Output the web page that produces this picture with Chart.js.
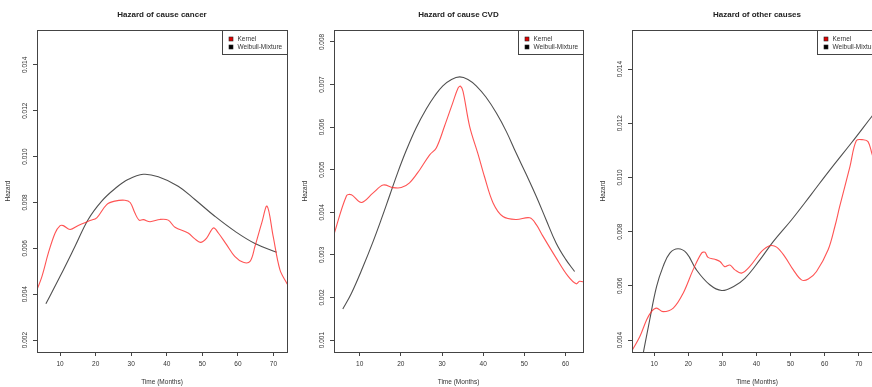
<!DOCTYPE html>
<html>
<head>
  <title>Hazard by cause</title>
  <script src="https://cdn.jsdelivr.net/npm/chart.js@4.4.0/dist/chart.umd.min.js"></script>
  <style>
    html, body {
      margin: 0;
      padding: 0;
      background: #fff;
      overflow: hidden;
    }
    #wrap {
      position: relative;
      width: 872px;
      height: 387px;
      overflow: hidden;
    }
    canvas {
      position: absolute;
      top: 0;
    }
  </style>
</head>
<body>
  <div id="wrap">
    <canvas id="c1" width="298" height="387" style="left:0px"></canvas>
    <canvas id="c2" width="298" height="387" style="left:297px"></canvas>
    <canvas id="c3" width="298" height="387" style="left:595px"></canvas>
  </div>

  <script>
    // legend labels
    var seriesNames = ['Kernel', 'Weibull-Mixture'];

    // cancer - kernel estimate
    var cancerKernelT = [3.0, 4.9, 6.7, 8.6, 10.0, 10.9, 12.8, 15.1, 18.4, 20.3, 23.1, 25.4, 28.2, 29.7, 31.0, 32.2, 33.4, 35.3, 38.1, 40.4, 42.3, 46.0, 47.9, 49.5, 51.2, 53.1, 54.5, 56.8, 59.1, 61.5, 63.4, 64.8, 66.7, 68.2, 69.9, 71.8, 73.7, 74.5];
    var cancerKernel = [0.0040, 0.00478, 0.0058, 0.00667, 0.00699, 0.00699, 0.00682, 0.0070, 0.00721, 0.00733, 0.00791, 0.00806, 0.0081, 0.0080, 0.00755, 0.00723, 0.00725, 0.00716, 0.00726, 0.00723, 0.00692, 0.00667, 0.00641, 0.00626, 0.00645, 0.00689, 0.00667, 0.00616, 0.00565, 0.00539, 0.00543, 0.00609, 0.00711, 0.00784, 0.00653, 0.00507, 0.00449, 0.0043];
    // cancer - weibull mixture
    var cancerWeibT = [6.0, 10.0, 14.2, 17.9, 21.7, 25.4, 29.2, 33.4, 37.6, 43.2, 47.9, 53.5, 59.2, 64.8, 70.9];
    var cancerWeib = [0.00358, 0.00478, 0.00609, 0.00726, 0.00806, 0.0086, 0.00901, 0.00923, 0.00912, 0.00871, 0.00813, 0.0074, 0.00674, 0.00621, 0.00583];

    // CVD - kernel estimate
    var cvdKernelT = [3.5, 6.8, 8.0, 10.4, 13.2, 15.7, 18.1, 20.1, 22.1, 24.6, 27.0, 28.6, 30.6, 32.6, 33.9, 34.5, 35.1, 36.7, 38.8, 40.3, 42.4, 44.8, 48.0, 51.3, 52.9, 54.5, 57.7, 60.6, 62.6, 63.4, 64.6];
    var cvdKernel = [0.0034, 0.00439, 0.00441, 0.00423, 0.00445, 0.00464, 0.00458, 0.00458, 0.00469, 0.0050, 0.00535, 0.00551, 0.00602, 0.00657, 0.00692, 0.00696, 0.00684, 0.00602, 0.00535, 0.00484, 0.00422, 0.0039, 0.00383, 0.00387, 0.00371, 0.00344, 0.00293, 0.0025, 0.00232, 0.00238, 0.00236];
    // CVD - weibull mixture
    var cvdWeibT = [5.9, 8.0, 10.8, 13.2, 15.3, 17.3, 19.3, 21.3, 23.7, 26.2, 28.2, 30.2, 32.3, 34.3, 36.3, 38.3, 40.7, 43.2, 45.6, 48.0, 50.5, 52.9, 55.3, 57.7, 60.0, 62.2];
    var cvdWeib = [0.00173, 0.0021, 0.00272, 0.0033, 0.00385, 0.0044, 0.00495, 0.00545, 0.00598, 0.00643, 0.00673, 0.00697, 0.00712, 0.00718, 0.00712, 0.00697, 0.0067, 0.00633, 0.0059, 0.00539, 0.00488, 0.00437, 0.00382, 0.00328, 0.0029, 0.00261];

    // other causes - kernel estimate
    var otherKernelT = [3.0, 5.8, 7.8, 9.2, 10.7, 12.6, 15.6, 18.5, 21.4, 23.9, 24.9, 25.8, 27.8, 29.3, 30.7, 32.2, 33.7, 35.6, 38.0, 41.5, 43.9, 45.9, 48.3, 50.8, 53.2, 55.2, 57.6, 61.0, 63.0, 64.4, 67.4, 69.3, 71.3, 72.7, 73.8, 76.0];
    var otherKernel = [0.0035, 0.00413, 0.00475, 0.00505, 0.00518, 0.00505, 0.00518, 0.00573, 0.00659, 0.00721, 0.00724, 0.00705, 0.00698, 0.0069, 0.00671, 0.00677, 0.00659, 0.00647, 0.00671, 0.00727, 0.00748, 0.00743, 0.00708, 0.00659, 0.00622, 0.00625, 0.00653, 0.00733, 0.0082, 0.00893, 0.0104, 0.01136, 0.01139, 0.01132, 0.0109, 0.0100];
    // other causes - weibull mixture
    var otherWeibT = [6.0, 8.7, 10.7, 12.6, 14.6, 17.0, 19.5, 22.4, 26.3, 29.8, 33.2, 36.6, 41.0, 44.9, 50.3, 55.9, 61.6, 67.8, 73.8, 76.0];
    var otherWeib = [0.0030, 0.00475, 0.00597, 0.00671, 0.00721, 0.00737, 0.00721, 0.00659, 0.00604, 0.00583, 0.00597, 0.00628, 0.00696, 0.00763, 0.00844, 0.00935, 0.01029, 0.01127, 0.01225, 0.0126];

    // tick labels
    var xTicks1 = [10, 20, 30, 40, 50, 60, 70];
    var xTicks2 = [10, 20, 30, 40, 50, 60];
    var xTicks3 = [10, 20, 30, 40, 50, 60, 70];
    var yTicks1 = ['0.002', '0.004', '0.006', '0.008', '0.010', '0.012', '0.014'];
    var yTicks2 = ['0.001', '0.002', '0.003', '0.004', '0.005', '0.006', '0.007', '0.008'];
    var yTicks3 = ['0.004', '0.006', '0.008', '0.010', '0.012', '0.014'];

    var FONT = 'Liberation Sans, Arial, sans-serif';
    var INK = '#333';

    function pts(ts, vs) {
      return ts.map(function (t, i) { return { x: t, y: vs[i] }; });
    }

    // draws the R style frame, rotated y labels, titles and legend
    var rFrame = {
      id: 'rFrame',
      afterDraw: function (chart, args, opts) {
        var ctx = chart.ctx;
        var a = chart.chartArea;
        var ys = chart.scales.y;
        ctx.save();
        ctx.strokeStyle = '#444';
        ctx.lineWidth = 1;
        ctx.strokeRect(Math.round(a.left) + 0.5, Math.round(a.top) + 0.5,
          Math.round(a.right - a.left), Math.round(a.bottom - a.top));

        ctx.fillStyle = INK;
        ctx.textAlign = 'center';
        ctx.textBaseline = 'middle';
        ctx.font = '6.5px ' + FONT;
        opts.yLabels.forEach(function (lab) {
          var py = ys.getPixelForValue(parseFloat(lab));
          ctx.save();
          ctx.translate(a.left - 12, py);
          ctx.rotate(-Math.PI / 2);
          ctx.fillText(lab, 0, 0);
          ctx.restore();
        });

        // axis titles
        ctx.fillText('Time (Months)', (a.left + a.right) / 2, 382);
        ctx.save();
        ctx.translate(a.left - 29, (a.top + a.bottom) / 2);
        ctx.rotate(-Math.PI / 2);
        ctx.fillText('Hazard', 0, 0);
        ctx.restore();

        // main title
        ctx.font = 'bold 8px ' + FONT;
        ctx.fillStyle = '#222';
        ctx.fillText(opts.title, (a.left + a.right) / 2, 15);

        // legend box in top right corner
        var lw = 65, lh = 24;
        var lx = a.right - lw, ly = a.top;
        ctx.fillStyle = '#fff';
        ctx.fillRect(lx, ly, lw, lh);
        ctx.strokeStyle = '#444';
        ctx.strokeRect(Math.round(lx) + 0.5, Math.round(ly) + 0.5, lw, lh);
        ctx.font = '6.5px ' + FONT;
        ctx.textAlign = 'left';
        var swatch = ['#e00000', '#000'];
        seriesNames.forEach(function (name, i) {
          var cy = ly + 9 + i * 8;
          ctx.fillStyle = swatch[i];
          ctx.fillRect(lx + 7, cy - 2, 4, 4);
          ctx.strokeStyle = '#222';
          ctx.lineWidth = 0.6;
          ctx.strokeRect(lx + 7, cy - 2, 4, 4);
          ctx.fillStyle = INK;
          ctx.fillText(name, lx + 15.5, cy);
        });
        ctx.restore();
      }
    };

    function makeChart(id, title, kT, kV, wT, wV, xMin, xMax, yMin, yMax, xTicks, yLabels, rightPad) {
      return new Chart(document.getElementById(id), {
        type: 'scatter',
        data: {
          datasets: [
            {
              label: seriesNames[0],
              data: pts(kT, kV),
              showLine: true,
              borderColor: 'rgba(255, 40, 40, 0.8)',
              borderWidth: 1.1,
              pointRadius: 0,
              tension: 0.35
            },
            {
              label: seriesNames[1],
              data: pts(wT, wV),
              showLine: true,
              borderColor: '#505050',
              borderWidth: 1.1,
              pointRadius: 0,
              tension: 0.4
            }
          ]
        },
        options: {
          responsive: false,
          animation: false,
          layout: { padding: { left: 0, right: rightPad, top: 30, bottom: 0 } },
          plugins: {
            legend: { display: false },
            tooltip: { enabled: false },
            rFrame: { title: title, yLabels: yLabels }
          },
          scales: {
            x: {
              type: 'linear',
              min: xMin,
              max: xMax,
              afterBuildTicks: function (s) {
                s.ticks = xTicks.map(function (v) { return { value: v }; });
              },
              afterFit: function (s) { s.height = 35; },
              grid: { drawOnChartArea: false, tickLength: 4, tickColor: '#444' },
              border: { display: false },
              ticks: {
                font: { family: FONT, size: 6.5 },
                color: INK,
                padding: 4,
                maxRotation: 0
              }
            },
            y: {
              type: 'linear',
              min: yMin,
              max: yMax,
              afterBuildTicks: function (s) {
                s.ticks = yLabels.map(function (v) { return { value: parseFloat(v) }; });
              },
              afterFit: function (s) { s.width = 37; },
              grid: { drawOnChartArea: false, tickLength: 4, tickColor: '#444' },
              border: { display: false },
              ticks: { display: false }
            }
          }
        },
        plugins: [rFrame]
      });
    }

    makeChart('c1', 'Hazard of cause cancer', cancerKernelT, cancerKernel, cancerWeibT, cancerWeib,
      3.5, 73.8, 0.00148, 0.01552, xTicks1, yTicks1, 11);
    makeChart('c2', 'Hazard of cause CVD', cvdKernelT, cvdKernel, cvdWeibT, cvdWeib,
      3.76, 64.24, 0.00072, 0.00828, xTicks2, yTicks2, 12);
    makeChart('c3', 'Hazard of other causes', otherKernelT, otherKernel, otherWeibT, otherWeib,
      3.5, 76.8, 0.00356, 0.01544, xTicks3, yTicks3, 11);
  </script>
</body>
</html>
